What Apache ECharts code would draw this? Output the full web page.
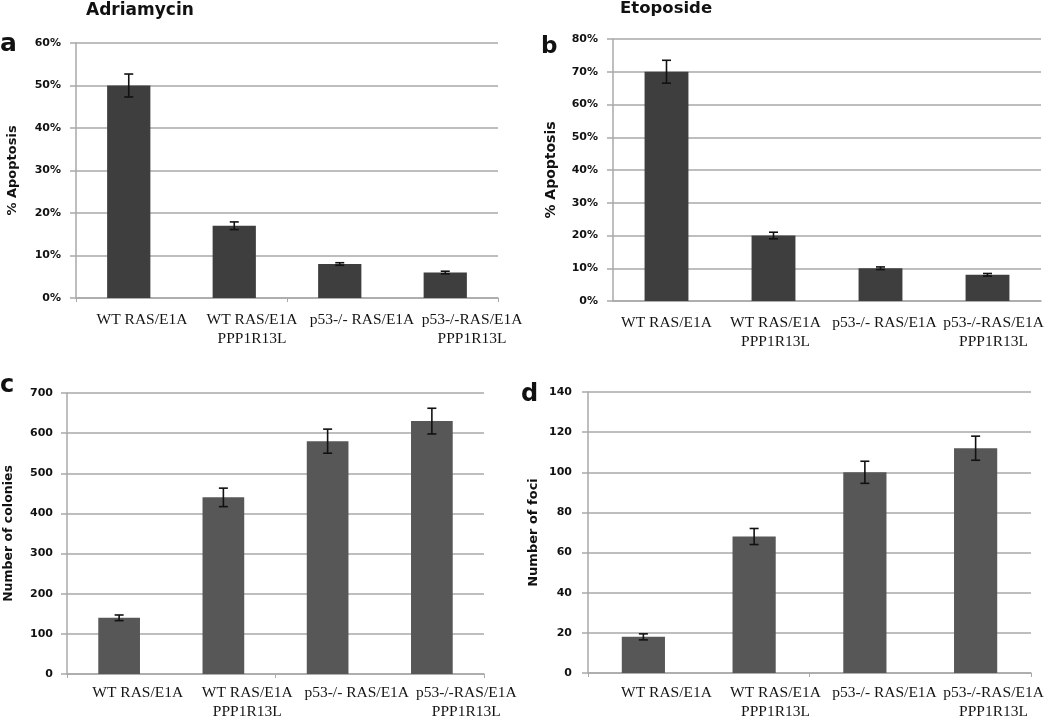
<!DOCTYPE html>
<html>
<head>
<meta charset="utf-8">
<script src="https://cdn.jsdelivr.net/npm/echarts@6/dist/echarts.min.js"></script>
<style>html,body{margin:0;padding:0;background:#fff}#c{width:1050px;height:722px}</style>
</head>
<body>
<div id="c"></div>
<script>
const categories = ['WT RAS/E1A', 'WT RAS/E1A\nPPP1R13L', 'p53-/- RAS/E1A', 'p53-/-RAS/E1A\nPPP1R13L'];
const adriamycin = [50, 17, 8, 6];
const adriamycinErr = [2.7, 0.9, 0.3, 0.3];
const etoposide = [70, 20, 10, 8];
const etoposideErr = [3.5, 1.0, 0.4, 0.4];
const colonies = [140, 440, 580, 630];
const coloniesErr = [7, 23, 30, 32];
const foci = [18, 68, 100, 112];
const fociErr = [1.5, 4, 5.5, 6];

// plot areas
const grids = [
  {left: 76, top: 43, width: 422, height: 255},
  {left: 613, top: 39, width: 428, height: 262},
  {left: 67, top: 393, width: 417, height: 281},
  {left: 588, top: 392, width: 443, height: 281}
];
// label rows (category labels are spaced slightly differently from the bars)
const labelGrids = [
  {left: 87, top: 43, width: 440, height: 255},
  {left: 612, top: 39, width: 436, height: 262},
  {left: 83, top: 393, width: 438, height: 281},
  {left: 612, top: 392, width: 436, height: 281}
];
const yCfg = [
  {max: 60, interval: 10, fmt: '{value}%', name: '% Apoptosis', gap: 57, nsize: 13, lmargin: 15, lsize: 11},
  {max: 80, interval: 10, fmt: '{value}%', name: '% Apoptosis', gap: 55, nsize: 14, lmargin: 15, lsize: 11},
  {max: 700, interval: 100, fmt: '{value}', name: 'Number of colonies', gap: 52, nsize: 12.5, lmargin: 14, lsize: 11},
  {max: 140, interval: 20, fmt: '{value}', name: 'Number of foci', gap: 48, nsize: 13, lmargin: 16, lsize: 11}
];
const values = [adriamycin, etoposide, colonies, foci];
const errs = [adriamycinErr, etoposideErr, coloniesErr, fociErr];
const barColors = ['#3e3e3e', '#3e3e3e', '#575757', '#575757'];
const barWidths = ['41%', '41%', '40%', '39%'];
const showXTicks = [true, false, true, true];

const gridColor = '#a9a9a9';
const sans = 'DejaVu Sans';

const allGrids = grids.concat(labelGrids);
const xAxis = [];
const yAxis = [];
grids.forEach((g, i) => {
  xAxis.push({
    type: 'category', gridIndex: i, data: categories,
    axisLine: {lineStyle: {color: gridColor, width: 1.5}},
    axisTick: {show: showXTicks[i], length: 4, lineStyle: {color: gridColor}},
    axisLabel: {show: false}
  });
  const c = yCfg[i];
  yAxis.push({
    type: 'value', gridIndex: i, min: 0, max: c.max, interval: c.interval,
    name: c.name, nameLocation: 'middle', nameGap: c.gap, nameRotate: 90,
    nameTextStyle: {fontFamily: sans, fontWeight: 'bold', fontSize: c.nsize, color: '#111'},
    axisLine: {show: true, lineStyle: {color: gridColor, width: 1.5}},
    axisTick: {show: true, length: 6, lineStyle: {color: gridColor, width: 1.5}},
    splitLine: {lineStyle: {color: gridColor, width: 1.5}},
    axisLabel: {formatter: c.fmt, fontFamily: sans, fontWeight: 'bold', fontSize: c.lsize, color: '#111', margin: c.lmargin}
  });
});
labelGrids.forEach((g, i) => {
  xAxis.push({
    type: 'category', gridIndex: 4 + i, data: categories,
    axisLine: {show: false}, axisTick: {show: false},
    axisLabel: {fontFamily: 'Liberation Serif', fontSize: 15.5, color: '#141414', margin: 12, lineHeight: 19.5, interval: 0}
  });
  yAxis.push({type: 'value', gridIndex: 4 + i, show: false, min: 0, max: 1, splitLine: {show: false}});
});

const series = [];
values.forEach((vals, i) => {
  series.push({
    type: 'bar', xAxisIndex: i, yAxisIndex: i, data: vals,
    barWidth: barWidths[i], itemStyle: {color: barColors[i]}, silent: true
  });
  series.push({
    type: 'custom', xAxisIndex: i, yAxisIndex: i, z: 5, silent: true,
    encode: {x: 0, y: 1},
    data: vals.map((v, k) => [k, v, errs[i][k]]),
    renderItem: function (params, api) {
      const x = api.value(0), v = api.value(1), e = api.value(2);
      const t = api.coord([x, v + e]);
      const b = api.coord([x, v - e]);
      const hw = 4.5;
      const st = {stroke: '#111', lineWidth: 1.6};
      return {type: 'group', children: [
        {type: 'line', shape: {x1: t[0], y1: t[1], x2: b[0], y2: b[1]}, style: st},
        {type: 'line', shape: {x1: t[0] - hw, y1: t[1], x2: t[0] + hw, y2: t[1]}, style: st},
        {type: 'line', shape: {x1: b[0] - hw, y1: b[1], x2: b[0] + hw, y2: b[1]}, style: st}
      ]};
    }
  });
});

const txt = (text, x, y, size) => ({
  type: 'text', x: x, y: y, silent: true,
  style: {text: text, fontFamily: sans, fontWeight: 'bold', fontSize: size, fill: '#111',
          textAlign: 'left', textVerticalAlign: 'middle'}
});
const graphic = [
  txt('Adriamycin', 86, 11, 17),
  txt('Etoposide', 620, 9, 16.5),
  txt('a', 0, 44, 25),
  txt('b', 541, 47, 23),
  txt('c', 0, 386, 24),
  txt('d', 521, 395, 24)
];

const chart = echarts.init(document.getElementById('c'));
chart.setOption({
  animation: false,
  backgroundColor: '#fff',
  graphic: graphic,
  grid: allGrids,
  xAxis: xAxis,
  yAxis: yAxis,
  series: series
});
</script>
</body>
</html>
